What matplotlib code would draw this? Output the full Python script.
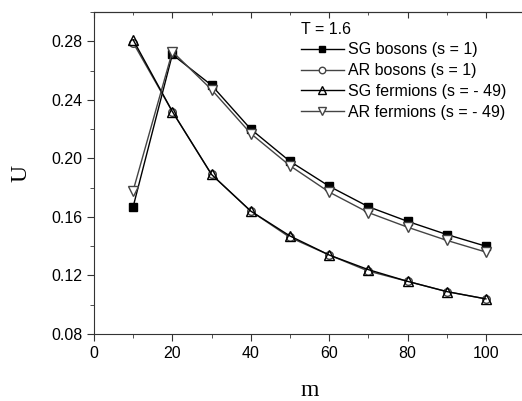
import matplotlib.pyplot as plt
from matplotlib.ticker import MultipleLocator

m = [10, 20, 30, 40, 50, 60, 70, 80, 90, 100]
sg_bosons = [0.167, 0.271, 0.250, 0.220, 0.198, 0.181, 0.167, 0.157, 0.148, 0.140]
ar_bosons = [0.279, 0.232, 0.189, 0.164, 0.146, 0.134, 0.123, 0.116, 0.109, 0.104]
sg_fermions = [0.281, 0.232, 0.189, 0.164, 0.147, 0.134, 0.124, 0.116, 0.109, 0.104]
ar_fermions = [0.178, 0.273, 0.247, 0.217, 0.195, 0.177, 0.163, 0.153, 0.144, 0.136]

plt.rcParams['font.family'] = 'Liberation Sans'

fig = plt.figure(figsize=(5.22, 4.01), dpi=100)
ax = fig.add_axes([0.180, 0.167, 0.826, 0.803])

ax.plot(m, sg_bosons, color='black', lw=1, marker='s', ms=5.5,
        mfc='black', mec='black', label='SG bosons (s = 1)')
ax.plot(m, ar_bosons, color='#444444', lw=1, marker='o', ms=5.5,
        mfc='white', mec='#444444', label='AR bosons (s = 1)')
ax.plot(m, sg_fermions, color='black', lw=1, marker='^', ms=6.5,
        mfc='none', mec='black', label='SG fermions (s = - 49)')
ax.plot(m, ar_fermions, color='#444444', lw=1, marker='v', ms=6.5,
        mfc='white', mec='#444444', label='AR fermions (s = - 49)')

ax.set_xlim(0, 110)
ax.set_ylim(0.08, 0.30)
ax.xaxis.set_major_locator(MultipleLocator(20))
ax.xaxis.set_minor_locator(MultipleLocator(10))
ax.set_yticks([0.08, 0.12, 0.16, 0.20, 0.24, 0.28])
ax.yaxis.set_minor_locator(MultipleLocator(0.02))
ax.tick_params(which='major', direction='out', length=5, labelsize=11.5, color='#333333')
ax.tick_params(which='minor', direction='out', length=3, color='#333333')
for s in ax.spines.values():
    s.set_color('#333333')

# inward ticks along the top edge, no labels
top = ax.secondary_xaxis('top')
top.xaxis.set_major_locator(MultipleLocator(20))
top.xaxis.set_minor_locator(MultipleLocator(10))
top.tick_params(which='major', direction='in', length=4, labeltop=False, color='#333333')
top.tick_params(which='minor', direction='in', length=2.5, color='#333333')
top.spines['top'].set_color('#333333')

ax.set_xlabel('m', family='Liberation Serif', fontsize=17, labelpad=14)
ax.set_ylabel('U', family='Liberation Serif', fontsize=17, labelpad=14)

leg = ax.legend(loc='upper left', bbox_to_anchor=(0.465, 0.99), frameon=False,
                title='T = 1.6', fontsize=11.5, title_fontsize=11.5,
                handlelength=2.7, handletextpad=0.25, labelspacing=0.36,
                borderaxespad=0, markerscale=0.85)
leg._legend_box.align = 'left'

plt.savefig('out.png')
